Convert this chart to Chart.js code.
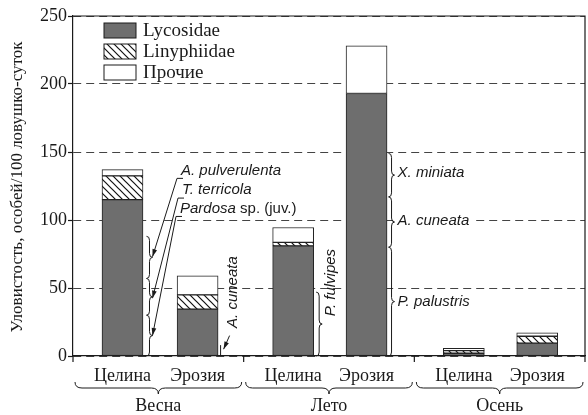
<!DOCTYPE html>
<html>
<head>
<meta charset="utf-8">
<script src="https://cdn.jsdelivr.net/npm/chart.js@4.4.0/dist/chart.umd.min.js"></script>
<style>
  html, body { margin: 0; padding: 0; background: #fff; }
</style>
</head>
<body>
<canvas id="chart" width="588" height="415"></canvas>
<script>
// data
const categories = ['Целина', 'Эрозия', 'Целина', 'Эрозия', 'Целина', 'Эрозия'];
const seasons = ['Весна', 'Лето', 'Осень'];
const xPos = [0.29, 0.73, 1.29, 1.72, 2.29, 2.72]; // bar centres, each season = 1 unit
const lycosidae = [115, 34.5, 81, 193, 2, 9.5];
const linyphiidae = [17.5, 10.5, 2.5, 0, 2, 5];
const others = [4.5, 14, 11, 35, 1.7, 2.5];
const yTicks = [0, 50, 100, 150, 200, 250];

const serif = 'Liberation Serif';
const sans = 'Liberation Sans';
const ink = '#1a1a1a';

function makeHatch() {
    const c = document.createElement('canvas');
    c.width = 7; c.height = 7;
    const g = c.getContext('2d');
    g.fillStyle = '#fff';
    g.fillRect(0, 0, 7, 7);
    g.strokeStyle = '#111';
    g.lineWidth = 1.2;
    g.beginPath();
    g.moveTo(0, 0); g.lineTo(7, 7);
    g.moveTo(-1, 6); g.lineTo(1, 8);
    g.moveTo(6, -1); g.lineTo(8, 1);
    g.stroke();
    return g.createPattern(c, 'repeat');
}
const hatch = makeHatch();

function points(values) {
    return values.map((v, i) => ({ x: xPos[i], y: v }));
}

// brace opening to the left, tip pointing right
function vBrace(ctx, x, yTop, yBot, w) {
    const xm = x + w / 2, ym = (yTop + yBot) / 2;
    const r = Math.min(4, (yBot - yTop) / 4);
    ctx.beginPath();
    ctx.moveTo(x, yTop);
    ctx.quadraticCurveTo(xm, yTop, xm, yTop + r);
    ctx.lineTo(xm, ym - r);
    ctx.quadraticCurveTo(xm, ym, x + w, ym);
    ctx.quadraticCurveTo(xm, ym, xm, ym + r);
    ctx.lineTo(xm, yBot - r);
    ctx.quadraticCurveTo(xm, yBot, x, yBot);
    ctx.stroke();
}

// brace under the axis, tip pointing down
function hBrace(ctx, xL, xR, y, h) {
    const ym = y + h / 2, xm = (xL + xR) / 2, r = 7;
    ctx.beginPath();
    ctx.moveTo(xL, y);
    ctx.quadraticCurveTo(xL, ym, xL + r, ym);
    ctx.lineTo(xm - r, ym);
    ctx.quadraticCurveTo(xm, ym, xm, y + h);
    ctx.quadraticCurveTo(xm, ym, xm + r, ym);
    ctx.lineTo(xR - r, ym);
    ctx.quadraticCurveTo(xR, ym, xR, y);
    ctx.stroke();
}

function arrow(ctx, pts) {
    ctx.beginPath();
    ctx.moveTo(pts[0][0], pts[0][1]);
    for (let i = 1; i < pts.length; i++) ctx.lineTo(pts[i][0], pts[i][1]);
    ctx.stroke();
    const [x1, y1] = pts[pts.length - 2], [x2, y2] = pts[pts.length - 1];
    const a = Math.atan2(y2 - y1, x2 - x1);
    ctx.beginPath();
    ctx.moveTo(x2, y2);
    ctx.lineTo(x2 - 8 * Math.cos(a - 0.3), y2 - 8 * Math.sin(a - 0.3));
    ctx.lineTo(x2 - 8 * Math.cos(a + 0.3), y2 - 8 * Math.sin(a + 0.3));
    ctx.closePath();
    ctx.fill();
}

const extras = {
    id: 'extras',
    afterDraw(chart) {
        const ctx = chart.ctx;
        const xs = chart.scales.x, ys = chart.scales.y;
        const area = chart.chartArea;
        const X = i => xs.getPixelForValue(xPos[i]);
        const Y = v => ys.getPixelForValue(v);
        ctx.save();
        ctx.strokeStyle = ink;
        ctx.fillStyle = ink;
        ctx.lineWidth = 1.2;

        // frame top and right
        ctx.beginPath();
        ctx.moveTo(area.left, area.top);
        ctx.lineTo(area.right, area.top);
        ctx.lineTo(area.right, area.bottom);
        ctx.stroke();

        // season separators, braces and names
        ctx.beginPath();
        for (let g = 0; g <= 3; g++) {
            const px = xs.getPixelForValue(g);
            ctx.moveTo(px, area.bottom);
            ctx.lineTo(px, area.bottom + 6);
        }
        ctx.stroke();
        ctx.lineWidth = 1;
        ctx.font = '18px ' + serif;
        ctx.textAlign = 'center';
        ctx.textBaseline = 'middle';
        seasons.forEach((s, g) => {
            const xl = xs.getPixelForValue(g) + 2, xr = xs.getPixelForValue(g + 1) - 2;
            hBrace(ctx, xl, xr, area.bottom + 26, 12);
            ctx.fillText(s, (xl + xr) / 2, area.bottom + 50);
        });

        // y axis title
        ctx.save();
        ctx.translate(18, (area.top + area.bottom) / 2 + 1);
        ctx.rotate(-Math.PI / 2);
        ctx.font = '17px ' + serif;
        ctx.fillText('Уловистость, особей/100 ловушко-суток', 0, 0);
        ctx.restore();

        // legend
        ctx.textAlign = 'left';
        ctx.font = '19px ' + serif;
        chart.data.datasets.forEach((ds, i) => {
            const top = 23 + i * 21;
            ctx.fillStyle = ds.backgroundColor;
            ctx.fillRect(104, top, 32, 15);
            ctx.strokeRect(104, top, 32, 15);
            ctx.fillStyle = ink;
            ctx.fillText(ds.label, 143, top + 8);
        });

        // species notes
        ctx.font = 'italic 15px ' + sans;
        const xr0 = X(0) + 21;
        [[88, 57], [57, 30], [30, 0]].forEach(r => vBrace(ctx, xr0 + 3, Y(r[0]), Y(r[1]), 6));
        const notes = [[136.5, 'A. pulverulenta', 181, 73], [122, 'T. terricola', 182, 42.5], [108.5, 'Pardosa', 180, 15]];
        notes.forEach(n => {
            const ty = Y(n[0]);
            ctx.fillText(n[1], n[2], ty);
            arrow(ctx, [[n[2] + 2, ty + 8], [n[2] - 4, ty + 8], [xr0 + 9, Y(n[3])]]);
        });
        const pw = ctx.measureText('Pardosa').width;
        ctx.font = '15px ' + sans;
        ctx.fillText(' sp. (juv.)', 180 + pw, Y(108.5));

        // A. cuneata on the eroded spring plot
        ctx.font = 'italic 15px ' + sans;
        ctx.save();
        ctx.translate(X(1) + 35, Y(47));
        ctx.rotate(-Math.PI / 2);
        ctx.textAlign = 'center';
        ctx.fillText('A. cuneata', 0, 0);
        ctx.restore();
        arrow(ctx, [[X(1) + 32, Y(15)], [X(1) + 26, Y(5)]]);
        ctx.beginPath();
        ctx.moveTo(X(1) + 23, Y(8));
        ctx.lineTo(X(1) + 23, Y(0));
        ctx.stroke();

        // P. fulvipes on the summer virgin plot
        vBrace(ctx, X(2) + 23, Y(47), Y(0), 6);
        ctx.save();
        ctx.translate(X(2) + 38, Y(54));
        ctx.rotate(-Math.PI / 2);
        ctx.textAlign = 'center';
        ctx.fillText('P. fulvipes', 0, 0);
        ctx.restore();

        // summer eroded plot
        const xr3 = X(3) + 22;
        [[149, 117], [117, 80], [80, 0]].forEach(r => vBrace(ctx, xr3, Y(r[0]), Y(r[1]), 6));
        ctx.fillText('X. miniata', xr3 + 9, Y(134.5));
        const cw = ctx.measureText('A. cuneata').width;
        ctx.fillStyle = '#fff';
        ctx.fillRect(xr3 + 8, Y(100) - 8, cw + 4, 16);
        ctx.fillStyle = ink;
        ctx.fillText('A. cuneata', xr3 + 9, Y(99.5));
        ctx.fillText('P. palustris', xr3 + 9, Y(40));
        ctx.restore();
    }
};

new Chart(document.getElementById('chart'), {
    type: 'bar',
    data: {
        datasets: [
            { label: 'Lycosidae', data: points(lycosidae), backgroundColor: '#6e6e6e' },
            { label: 'Linyphiidae', data: points(linyphiidae), backgroundColor: hatch },
            { label: 'Прочие', data: points(others), backgroundColor: '#ffffff' }
        ]
    },
    options: {
        responsive: false,
        animation: false,
        layout: { padding: { top: 16, right: 3 } },
        datasets: {
            bar: { barThickness: 41, borderColor: '#222', borderWidth: 1, borderSkipped: false }
        },
        plugins: { legend: { display: false }, tooltip: { enabled: false } },
        scales: {
            x: {
                type: 'linear', min: 0, max: 3, offset: false, stacked: true,
                grid: { display: false, drawTicks: false },
                border: { display: true, color: ink, width: 1.2 },
                afterBuildTicks: s => { s.ticks = xPos.map(v => ({ value: v })); },
                ticks: {
                    callback: (v, i) => categories[i],
                    font: { family: serif, size: 18 }, color: ink,
                    padding: 9, maxRotation: 0, autoSkip: false
                },
                afterFit: s => { s.height = 59; }
            },
            y: {
                stacked: true, min: 0, max: 250,
                afterBuildTicks: s => { s.ticks = yTicks.map(v => ({ value: v })); },
                grid: { color: '#444', lineWidth: 1, tickLength: 5, tickColor: ink, tickWidth: 1.2 },
                border: { dash: [8, 5], color: ink, width: 1.2 },
                ticks: { font: { family: serif, size: 18 }, color: ink, padding: 1 },
                afterFit: s => { s.width = 73; }
            }
        }
    },
    plugins: [extras]
});
</script>
</body>
</html>
